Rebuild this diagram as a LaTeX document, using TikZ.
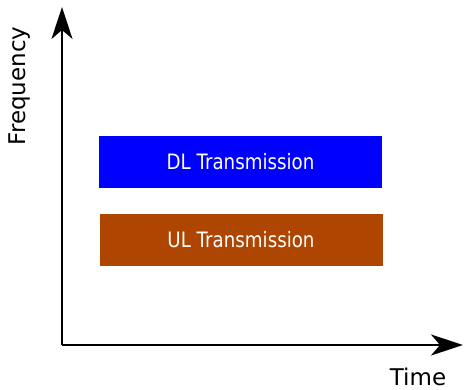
\documentclass[tikz,border=0pt]{standalone}
\usepackage{fontspec}
\setmainfont{DejaVu Sans}
\usetikzlibrary{arrows.meta}
% narrowed lettering for the band labels
\newcommand{\bandtext}[1]{\scalebox{0.86}[1]{#1}}
\begin{document}
\begin{tikzpicture}[x=1pt,y=-1pt,
  axis/.style={line width=2pt,-{Stealth[length=32pt,width=21pt,inset=9pt]}},
  band/.style={minimum width=283pt,minimum height=52pt,inner sep=0pt,text=white,font=\fontsize{21.2}{25}\selectfont},
  axislabel/.style={font=\fontsize{23}{27}\selectfont,inner sep=0pt}]
  \useasboundingbox (0,0) rectangle (464,390);
  \coordinate (origin) at (62,345);
  \coordinate (ytop) at (62,7);
  \coordinate (xend) at (463,345);
  \draw[axis] (origin) -- (ytop);
  \draw[axis] (origin) -- (xend);
  \node[band,fill={rgb,255:red,0;green,0;blue,255}] (dl) at (240.5,162) {\bandtext{DL Transmission}};
  \node[band,fill={rgb,255:red,174;green,69;blue,0}] (ul) at (241,240) {\bandtext{UL Transmission}};
  \node[axislabel,rotate=90] (freq) at (20,86) {Frequency};
  \node[axislabel] (time) at (418,376.5) {Time};
\end{tikzpicture}
\end{document}
